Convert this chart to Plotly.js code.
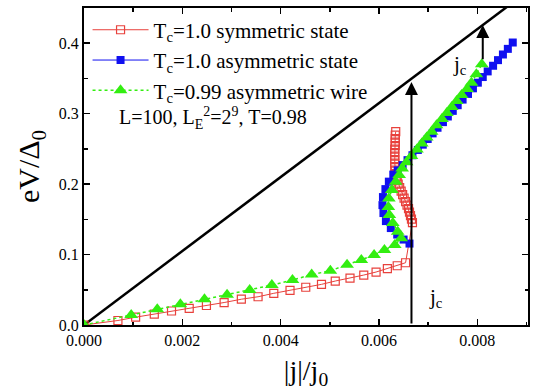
<!DOCTYPE html>
<html>
<head>
<meta charset="utf-8">
<script src="https://cdn.plot.ly/plotly-3.0.1.min.js"></script>
<style>html,body{margin:0;padding:0;background:#fff;}#chart{width:536px;height:390px;}</style>
</head>
<body>
<div id="chart"></div>
<script>
// Tc = 1.0 symmetric state (open red squares)
const redX = [0, 0.00069, 0.00105, 0.00143, 0.00178, 0.00214, 0.00249, 0.00285, 0.00320, 0.00354,
  0.00386, 0.00419, 0.00451, 0.00483, 0.00511, 0.00541, 0.00569, 0.00594, 0.00617, 0.00637, 0.00654,
  0.00668, 0.00666, 0.00664, 0.00662, 0.00660, 0.00657, 0.00654, 0.00651, 0.00648, 0.00645, 0.00642,
  0.00639, 0.00637, 0.00635, 0.00634, 0.00633, 0.00632, 0.00632, 0.00632, 0.00632, 0.00632, 0.00632,
  0.00633, 0.00633, 0.00633, 0.00633, 0.00634];
const redY = [0, 0.0064, 0.0111, 0.0153, 0.0199, 0.0237, 0.0277, 0.0319, 0.0366, 0.0401,
  0.0450, 0.0492, 0.0536, 0.0577, 0.0624, 0.0664, 0.0709, 0.0752, 0.0799, 0.0841, 0.0884,
  0.1454, 0.1504, 0.1553, 0.1603, 0.1652, 0.1702, 0.1752, 0.1801, 0.1851, 0.1901, 0.1950,
  0.2000, 0.2050, 0.2099, 0.2149, 0.2199, 0.2248, 0.2298, 0.2348, 0.2397, 0.2447, 0.2496,
  0.2546, 0.2596, 0.2645, 0.2695, 0.2745];

// Tc = 1.0 asymmetric state (filled blue squares)
const blueX = [0.00662, 0.00650, 0.00637, 0.00624, 0.00614, 0.00609, 0.00607, 0.00608, 0.00613, 0.00620,
  0.00629, 0.00638, 0.00648, 0.00658, 0.00668, 0.00679, 0.00689, 0.00699, 0.00709, 0.00719,
  0.00730, 0.00740, 0.00750, 0.00760, 0.00770, 0.00781, 0.00791, 0.00801, 0.00811, 0.00821,
  0.00832, 0.00842, 0.00852, 0.00862, 0.00872];
const blueY = [0.1156, 0.1213, 0.1284, 0.1376, 0.1475, 0.1589, 0.1702, 0.1816, 0.1929, 0.2035,
  0.2135, 0.2195, 0.2270, 0.2340, 0.2410, 0.2485, 0.2560, 0.2640, 0.2720, 0.2800,
  0.2880, 0.2960, 0.3040, 0.3120, 0.3200, 0.3280, 0.3360, 0.3440, 0.3520, 0.3600,
  0.3680, 0.3760, 0.3840, 0.3920, 0.4010];

// Tc = 0.99 asymmetric wire (green triangles)
const greenX = [0, 0.00096, 0.00149, 0.00196, 0.00245, 0.00291, 0.00337, 0.00382, 0.00424, 0.00463,
  0.00501, 0.00535, 0.00564, 0.00590, 0.00611, 0.00632, 0.00645,
  0.00638, 0.00628, 0.00621, 0.00619, 0.00620, 0.00626, 0.00634, 0.00641, 0.00647,
  0.00656, 0.00666, 0.00677, 0.00687, 0.00697, 0.00707, 0.00717, 0.00728, 0.00738, 0.00748,
  0.00758, 0.00768, 0.00779, 0.00788, 0.00798, 0.00809];
const greenY = [0, 0.0142, 0.0223, 0.0294, 0.0365, 0.0428, 0.0496, 0.0567, 0.0638, 0.0716,
  0.0770, 0.0855, 0.0922, 0.0993, 0.1064, 0.1135, 0.1230,
  0.1323, 0.1447, 0.1560, 0.1674, 0.1797, 0.1915, 0.2033, 0.2128, 0.2223,
  0.2310, 0.2400, 0.2490, 0.2575, 0.2660, 0.2745, 0.2835, 0.2925, 0.3010, 0.3095,
  0.3180, 0.3265, 0.3350, 0.3440, 0.3560, 0.3700];

// Normal-state line eV = R j
const normalX = [0, 0.0090];
const normalY = [0, 0.4725];

// Critical current arrows
const jcArrowX = [0.00666, 0.00811];
const jcArrowFrom = [0, 0.375];
const jcArrowTo = [0.345, 0.426];
const jcLabelX = [0.00715, 0.00764];
const jcLabelY = [0.038, 0.369];

const seriesNames = ['T<sub>c</sub>=1.0 symmetric state', 'T<sub>c</sub>=1.0 asymmetric state', 'T<sub>c</sub>=0.99 asymmetric wire'];
const xTickVals = [0, 0.002, 0.004, 0.006, 0.008];
const xTickText = ['0.000', '0.002', '0.004', '0.006', '0.008'];
const yTickVals = [0, 0.1, 0.2, 0.3, 0.4];
const yTickText = ['0.0', '0.1', '0.2', '0.3', '0.4'];

const FONT = 'Liberation Serif, Times New Roman, serif';

const traces = [
  {x: normalX, y: normalY, mode: 'lines', line: {color: '#000', width: 2.5}, showlegend: false, hoverinfo: 'skip'},
  {x: redX, y: redY, name: seriesNames[0], mode: 'lines+markers',
   line: {color: '#e8413c', width: 1},
   marker: {symbol: 'square-open', size: 8, color: '#e8413c', line: {width: 1.2, color: '#e8413c'}}},
  {x: blueX, y: blueY, name: seriesNames[1], mode: 'lines+markers',
   line: {color: '#1010f0', width: 1},
   marker: {symbol: 'square', size: 8, color: '#1010f0'}},
  {x: greenX, y: greenY, name: seriesNames[2], mode: 'lines+markers',
   line: {color: '#33ee11', width: 1.5, dash: 'dot'},
   marker: {symbol: 'triangle-up', size: 12, color: '#33ee11'}}
];

const annotations = [];
for (let i = 0; i < jcArrowX.length; i++) {
  annotations.push({x: jcArrowX[i], y: jcArrowTo[i], ax: jcArrowX[i], ay: jcArrowFrom[i],
    xref: 'x', yref: 'y', axref: 'x', ayref: 'y', text: '', showarrow: true,
    arrowhead: 2, arrowsize: 1.3, arrowwidth: 2, arrowcolor: '#000'});
  annotations.push({x: jcLabelX[i], y: jcLabelY[i], xref: 'x', yref: 'y', text: 'j<sub>c</sub>',
    showarrow: false, font: {family: FONT, size: 21, color: '#000'}});
}
annotations.push({x: 0.075, y: 0.653, xref: 'paper', yref: 'paper', xanchor: 'left', yanchor: 'middle',
  text: 'L=100, L<sub>E</sub><sup>2</sup>=2<sup>9</sup>, T=0.98', showarrow: false,
  font: {family: FONT, size: 20, color: '#000'}});

const axisCommon = {
  showgrid: false, zeroline: false, showline: true, linecolor: '#000', linewidth: 2,
  mirror: 'ticks', ticks: 'inside', ticklen: 6, tickwidth: 1.5, tickcolor: '#000',
  tickfont: {family: FONT, size: 16, color: '#000'}
};

const layout = {
  width: 536, height: 390,
  margin: {l: 84, r: 8, t: 8, b: 65},
  paper_bgcolor: '#fff', plot_bgcolor: '#fff',
  font: {family: FONT, color: '#000'},
  xaxis: Object.assign({}, axisCommon, {
    range: [0, 0.00903], tickmode: 'array', tickvals: xTickVals, ticktext: xTickText,
    minor: {dtick: 0.001, tick0: 0, ticks: 'inside', ticklen: 3.5, tickwidth: 1.5, tickcolor: '#000', showgrid: false},
    title: {text: '|j|/j<sub>0</sub>', font: {family: FONT, size: 28, color: '#000'}, standoff: 12}
  }),
  yaxis: Object.assign({}, axisCommon, {
    range: [0, 0.45], tickmode: 'array', tickvals: yTickVals, ticktext: yTickText,
    minor: {dtick: 0.05, tick0: 0, ticks: 'inside', ticklen: 3.5, tickwidth: 1.5, tickcolor: '#000', showgrid: false},
    title: {text: 'eV/Δ<sub>0</sub>', font: {family: FONT, size: 30, color: '#000'}, standoff: 10}
  }),
  legend: {x: 0.008, y: 0.995, xanchor: 'left', yanchor: 'top', bgcolor: 'rgba(0,0,0,0)',
    font: {family: FONT, size: 21, color: '#000'}, itemwidth: 56, tracegroupgap: 0},
  annotations: annotations,
  showlegend: true
};

Plotly.newPlot('chart', traces, layout, {displayModeBar: false, staticPlot: true});
</script>
</body>
</html>
